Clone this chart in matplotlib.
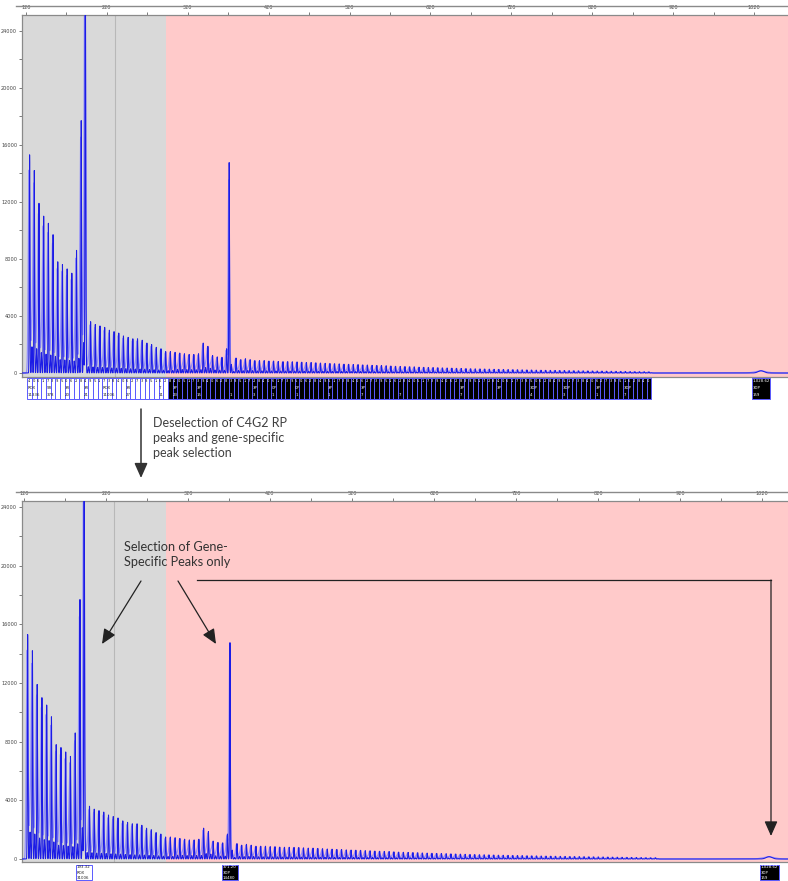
import numpy as np
import matplotlib.pyplot as plt
from matplotlib.patches import Rectangle

W, H = 788, 881

# C4G2 repeat-primed ladder: first peak size (bp), repeat step (bp), heights (RFU)
rp_first = 124.5
rp_unit = 5.8
rp_heights = [
    15300, 14200, 11900, 11000, 10500, 9700, 7800, 7600, 7300, 7000, 8600, 17700,
    3700, 3600, 3400, 3300, 3200, 3000, 2900, 2800, 2600, 2500, 2400, 2400, 2300,
    2100, 2000, 1800, 1700, 1500,
    1500, 1450, 1400, 1350, 1300, 1300, 1350, 2100, 1870, 1220, 1130, 1100, 1700,
    600,
    1050, 940, 1000, 940, 870, 870, 870, 840, 840, 810, 800, 800, 790, 780, 760,
    740, 740, 720, 700, 680, 670, 650, 640, 620, 610, 600, 590, 570, 560, 540,
    530, 520, 510, 490, 470, 460, 450, 440, 430,
    410, 400, 390, 380, 370, 360, 350, 340, 330, 320, 310, 300, 290, 285, 280,
    270, 260, 255, 250, 240, 235, 230, 220, 215, 210, 200, 195, 190, 185, 180,
    175, 170, 165, 160, 155, 150, 145, 140, 135, 130, 125, 120, 115, 110, 105,
    100, 95, 90, 85, 80,
]

# sparse dye / height tags printed under the ladder peaks (index, dye, value)
rp_tags = [(0, 'ROX', '11336'), (4, 'SR', '378'), (8, '3R', '20'), (12, '3R', '21'),
           (16, 'ROX', '11006'), (21, '3R', '27'), (28, 'T', '11'), (31, '3P', '23'),
           (36, '3P', '15'), (43, '', '1'), (48, '3P', '3'), (52, '0P', '1'),
           (57, '0P', '1'), (64, '3P', '1'), (71, '3P', '7'), (79, '', '7'),
           (92, '3P', '7'), (100, '3P', ''), (107, '3DP', '4'), (114, '3DP', '3'),
           (121, '3P', '1'), (127, '3DP', '7')]

# called peaks kept after gene-specific selection
gs_sizes = [193.32, 371.20, 1028.62]
gs_dyes = ['ROX', '3DP', '3DP']
gs_heights = [31006, 14480, 159]
gs_widths = [0.5, 0.5, 4.5]

bin_edges = [115, 293, 1070]     # grey bin / red bin
bin_line = 229.5

x_ticks = [120, 220, 320, 420, 520, 620, 720, 820, 920, 1020]
y_ticks = [0, 4000, 8000, 12000, 16000, 20000, 24000]

rp_sizes = rp_first + rp_unit * np.arange(len(rp_heights))


def gauss(x, c, w):
    return np.exp(-0.5 * ((x - c) / w) ** 2)


def traces(x):
    dark = np.zeros_like(x)
    light = np.zeros_like(x)
    for s, h in zip(rp_sizes, rp_heights):
        dark += h * gauss(x, s, 0.4)
        light += 0.93 * h * gauss(x, s - 0.6, 1.0)
        side = 0.2 if s < 300 else 0.3
        light += side * h * gauss(x, s + 2.9, 0.9)
        dark += 0.6 * side * h * gauss(x, s + 2.9, 0.45)
    for s, h, w in zip(gs_sizes, gs_heights, gs_widths):
        dark += h * gauss(x, s, w * 0.8)
        light += 0.9 * h * gauss(x, s - 0.5, w * 1.6)
    return dark, light


fig = plt.figure(figsize=(W / 100, H / 100), dpi=100)


def px_axes(x0, y0, x1, y1, **kw):
    return fig.add_axes([x0 / W, 1 - y1 / H, (x1 - x0) / W, (y1 - y0) / H], **kw)


def draw_panel(top, bottom, xlim, ylim, top_line_y):
    ax = px_axes(22, top, 788, bottom)
    ax.set_xlim(*xlim)
    ax.set_ylim(*ylim)
    ax.axvspan(bin_edges[0], bin_edges[1], color='#d9d9d9', lw=0, zorder=0)
    ax.axvspan(bin_edges[1], bin_edges[2], color='#ffcaca', lw=0, zorder=0)
    ax.axvline(bin_line, color='#b8b8b8', lw=0.8, zorder=1)

    x = np.linspace(xlim[0], xlim[1], 24000)
    dark, light = traces(x)
    ax.plot(x, light, color='#8c88ff', lw=0.9, alpha=0.9, zorder=2)
    ax.plot(x, dark, color='#1c1ce6', lw=0.75, zorder=3)

    ax.xaxis.tick_top()
    ax.set_xticks(x_ticks)
    ax.set_xticks([t + 50 for t in x_ticks[:-1]], minor=True)
    ax.set_yticks(y_ticks)
    ax.set_yticks(np.arange(2000, 24001, 4000), minor=True)
    ax.tick_params(which='both', direction='out', length=2, width=0.6,
                   color='#666666', labelsize=3.6, labelcolor='#444444', pad=1.5)
    for side in ('left', 'top', 'bottom'):
        ax.spines[side].set_color('#8a8a8a')
        ax.spines[side].set_linewidth(0.9)
    ax.spines['right'].set_visible(False)
    fig.add_artist(plt.Line2D([16 / W, 1], [1 - top_line_y / H] * 2,
                              color='#8a8a8a', lw=1.0))
    return ax


def strip_axes(top, bottom, xlim):
    sx = px_axes(22, top, 788, bottom)
    sx.set_xlim(*xlim)
    sx.set_ylim(1, 0)
    sx.axis('off')
    return sx


def add_box(sx, size, width, dark):
    face = 'black' if dark else 'white'
    r = Rectangle((size - width / 2, 0.03), width, 0.94, facecolor=face,
                  edgecolor='#5a5aff', lw=0.7)
    sx.add_patch(r)
    return r


top_xlim = (115.1, 1062.0)
bot_xlim = (117.6, 1051.7)

draw_panel(15, 377, top_xlim, (-280, 25100), 6)
draw_panel(501, 862, bot_xlim, (-205, 24400), 492)

# before deselection every ladder peak carries a label box
st = strip_axes(377, 400, top_xlim)
for s in rp_sizes:
    dark = s > 296
    add_box(st, s, rp_unit, dark)
    st.text(s - rp_unit / 2 + 0.5, 0.08, f'{s:.2f}'[-4:-2], fontsize=2.6,
            color='white' if dark else '#222222', va='top', ha='left')
for i, dye, val in rp_tags:
    s = rp_sizes[i]
    tc = 'white' if s > 296 else '#222222'
    st.text(s - rp_unit / 2 + 0.5, 0.40, dye, fontsize=2.8, color=tc, va='top')
    st.text(s - rp_unit / 2 + 0.5, 0.70, val, fontsize=2.8, color=tc, va='top')
add_box(st, gs_sizes[2], 22, True)
for j, t in enumerate([f'{gs_sizes[2]:,.2f}', gs_dyes[2], str(gs_heights[2])]):
    st.text(gs_sizes[2] - 10.5, 0.08 + 0.31 * j, t, fontsize=2.8, color='white',
            va='top')

# after selection only the gene-specific peaks remain labelled
sb = strip_axes(864, 881, bot_xlim)
for s, d, h, w in zip(gs_sizes, gs_dyes, gs_heights, [19, 19, 23]):
    dark = s > 296
    add_box(sb, s, w, dark)
    for j, t in enumerate([f'{s:,.2f}', d, str(h)]):
        sb.text(s - w / 2 + 0.9, 0.08 + 0.31 * j, t, fontsize=2.8,
                color='white' if dark else '#222222', va='top')

# annotation layer in pixel coordinates
ov = fig.add_axes([0, 0, 1, 1], zorder=10)
ov.set_xlim(0, W)
ov.set_ylim(H, 0)
ov.axis('off')
ov.patch.set_alpha(0)

head = '-|>,head_length=0.9,head_width=0.4'
ov.annotate('', xy=(141, 478), xytext=(141, 409),
            arrowprops=dict(arrowstyle=head, color='#333333', lw=1.1,
                            shrinkA=0, shrinkB=0))
ov.text(153, 417, 'Deselection of C4G2 RP\npeaks and gene-specific\npeak selection',
        fontsize=9.0, family='Lato', color='#404040', va='top', ha='left',
        linespacing=1.3)

ov.text(124, 541, 'Selection of Gene-\nSpecific Peaks only', fontsize=9.2,
        family='Lato', color='#333333', va='top', ha='left', linespacing=1.25)
ov.annotate('', xy=(102, 644), xytext=(141, 581),
            arrowprops=dict(arrowstyle=head, color='#222222', lw=0.9,
                            shrinkA=0, shrinkB=0))
ov.annotate('', xy=(216, 644), xytext=(178, 581),
            arrowprops=dict(arrowstyle=head, color='#222222', lw=0.9,
                            shrinkA=0, shrinkB=0))
ov.plot([197, 771], [580, 580], color='#222222', lw=0.9)
ov.annotate('', xy=(771, 836), xytext=(771, 580),
            arrowprops=dict(arrowstyle=head, color='#222222', lw=0.9,
                            shrinkA=0, shrinkB=0))

fig.savefig('out.png', dpi=100)
